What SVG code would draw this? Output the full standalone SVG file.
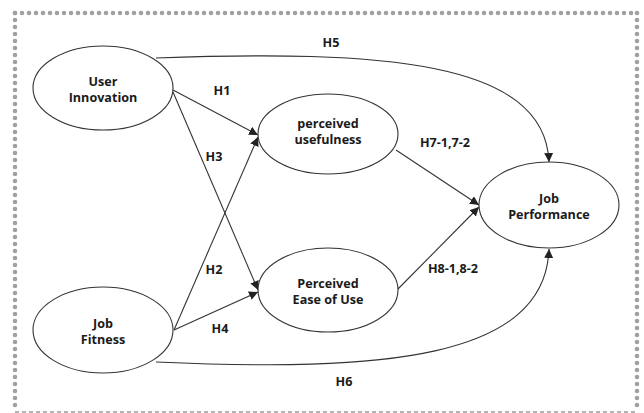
<svg xmlns="http://www.w3.org/2000/svg" width="644" height="413" viewBox="0 0 644 413">
<style>
.node ellipse{fill:#fff;stroke:#333;stroke-width:1.1}
text{font-family:"Open Sans","Noto Sans",sans-serif;font-weight:bold;font-size:12.6px;fill:#1a1a1a;text-anchor:middle}
.edge{fill:none;stroke:#333;stroke-width:1.1}
.arr{marker-end:url(#ah)}
.dot{fill:none;stroke:#a0a0a0;stroke-width:4.6;stroke-linecap:round;stroke-dasharray:0 7}
.dash{fill:none;stroke:#9a9a9a;stroke-width:1.3;stroke-dasharray:4 3}
</style>
<defs>
<marker id="ah" viewBox="0 0 10 10" refX="10" refY="5" markerWidth="9" markerHeight="9" markerUnits="userSpaceOnUse" orient="auto">
<path d="M0,0 L10,5 L0,10 z" fill="#222"/>
</marker>
</defs>
<rect width="644" height="413" fill="#fff"/>
<g id="border">
<line class="dot" x1="15" y1="13" x2="637" y2="13"/>
<line class="dot" x1="15" y1="13" x2="15" y2="406"/>
<line class="dot" x1="637" y1="13" x2="637" y2="406"/>
<line class="dash" x1="15" y1="412" x2="637" y2="412"/>
</g>
<g id="connectors">
<path class="edge arr" d="M156 58 C380 50,545 60,549 162"/>
<path class="edge arr" d="M156 362 C380 372,545 360,549 249"/>
<path class="edge arr" d="M173 90 L258 135"/>
<path class="edge arr" d="M173 92 L258 290"/>
<path class="edge arr" d="M174 330 L258 137"/>
<path class="edge arr" d="M174 330 L258 292"/>
<path class="edge arr" d="M396 150 L479 205"/>
<path class="edge arr" d="M396 291 L479 207"/>
</g>
<g id="labels">
<text x="331" y="47">H5</text>
<text x="222" y="95">H1</text>
<text x="214" y="161">H3</text>
<text x="214" y="274">H2</text>
<text x="220" y="333">H4</text>
<text x="445" y="147">H7-1,7-2</text>
<text x="453" y="273">H8-1,8-2</text>
<text x="344" y="386">H6</text>
</g>
<g id="user-innovation" class="node">
<ellipse cx="103" cy="88" rx="70" ry="42"/>
<text x="103" y="86">User</text>
<text x="103" y="102">Innovation</text>
</g>
<g id="job-fitness" class="node">
<ellipse cx="103" cy="330" rx="70" ry="43"/>
<text x="103" y="328">Job</text>
<text x="103" y="344">Fitness</text>
</g>
<g id="perceived-usefulness" class="node">
<ellipse cx="328" cy="134" rx="70" ry="40"/>
<text x="328" y="128">perceived</text>
<text x="328" y="144">usefulness</text>
</g>
<g id="perceived-ease" class="node">
<ellipse cx="328" cy="290" rx="70" ry="42"/>
<text x="328" y="288">Perceived</text>
<text x="328" y="304">Ease of Use</text>
</g>
<g id="job-performance" class="node">
<ellipse cx="549" cy="205" rx="70" ry="43"/>
<text x="549" y="203">Job</text>
<text x="549" y="219">Performance</text>
</g>
</svg>
